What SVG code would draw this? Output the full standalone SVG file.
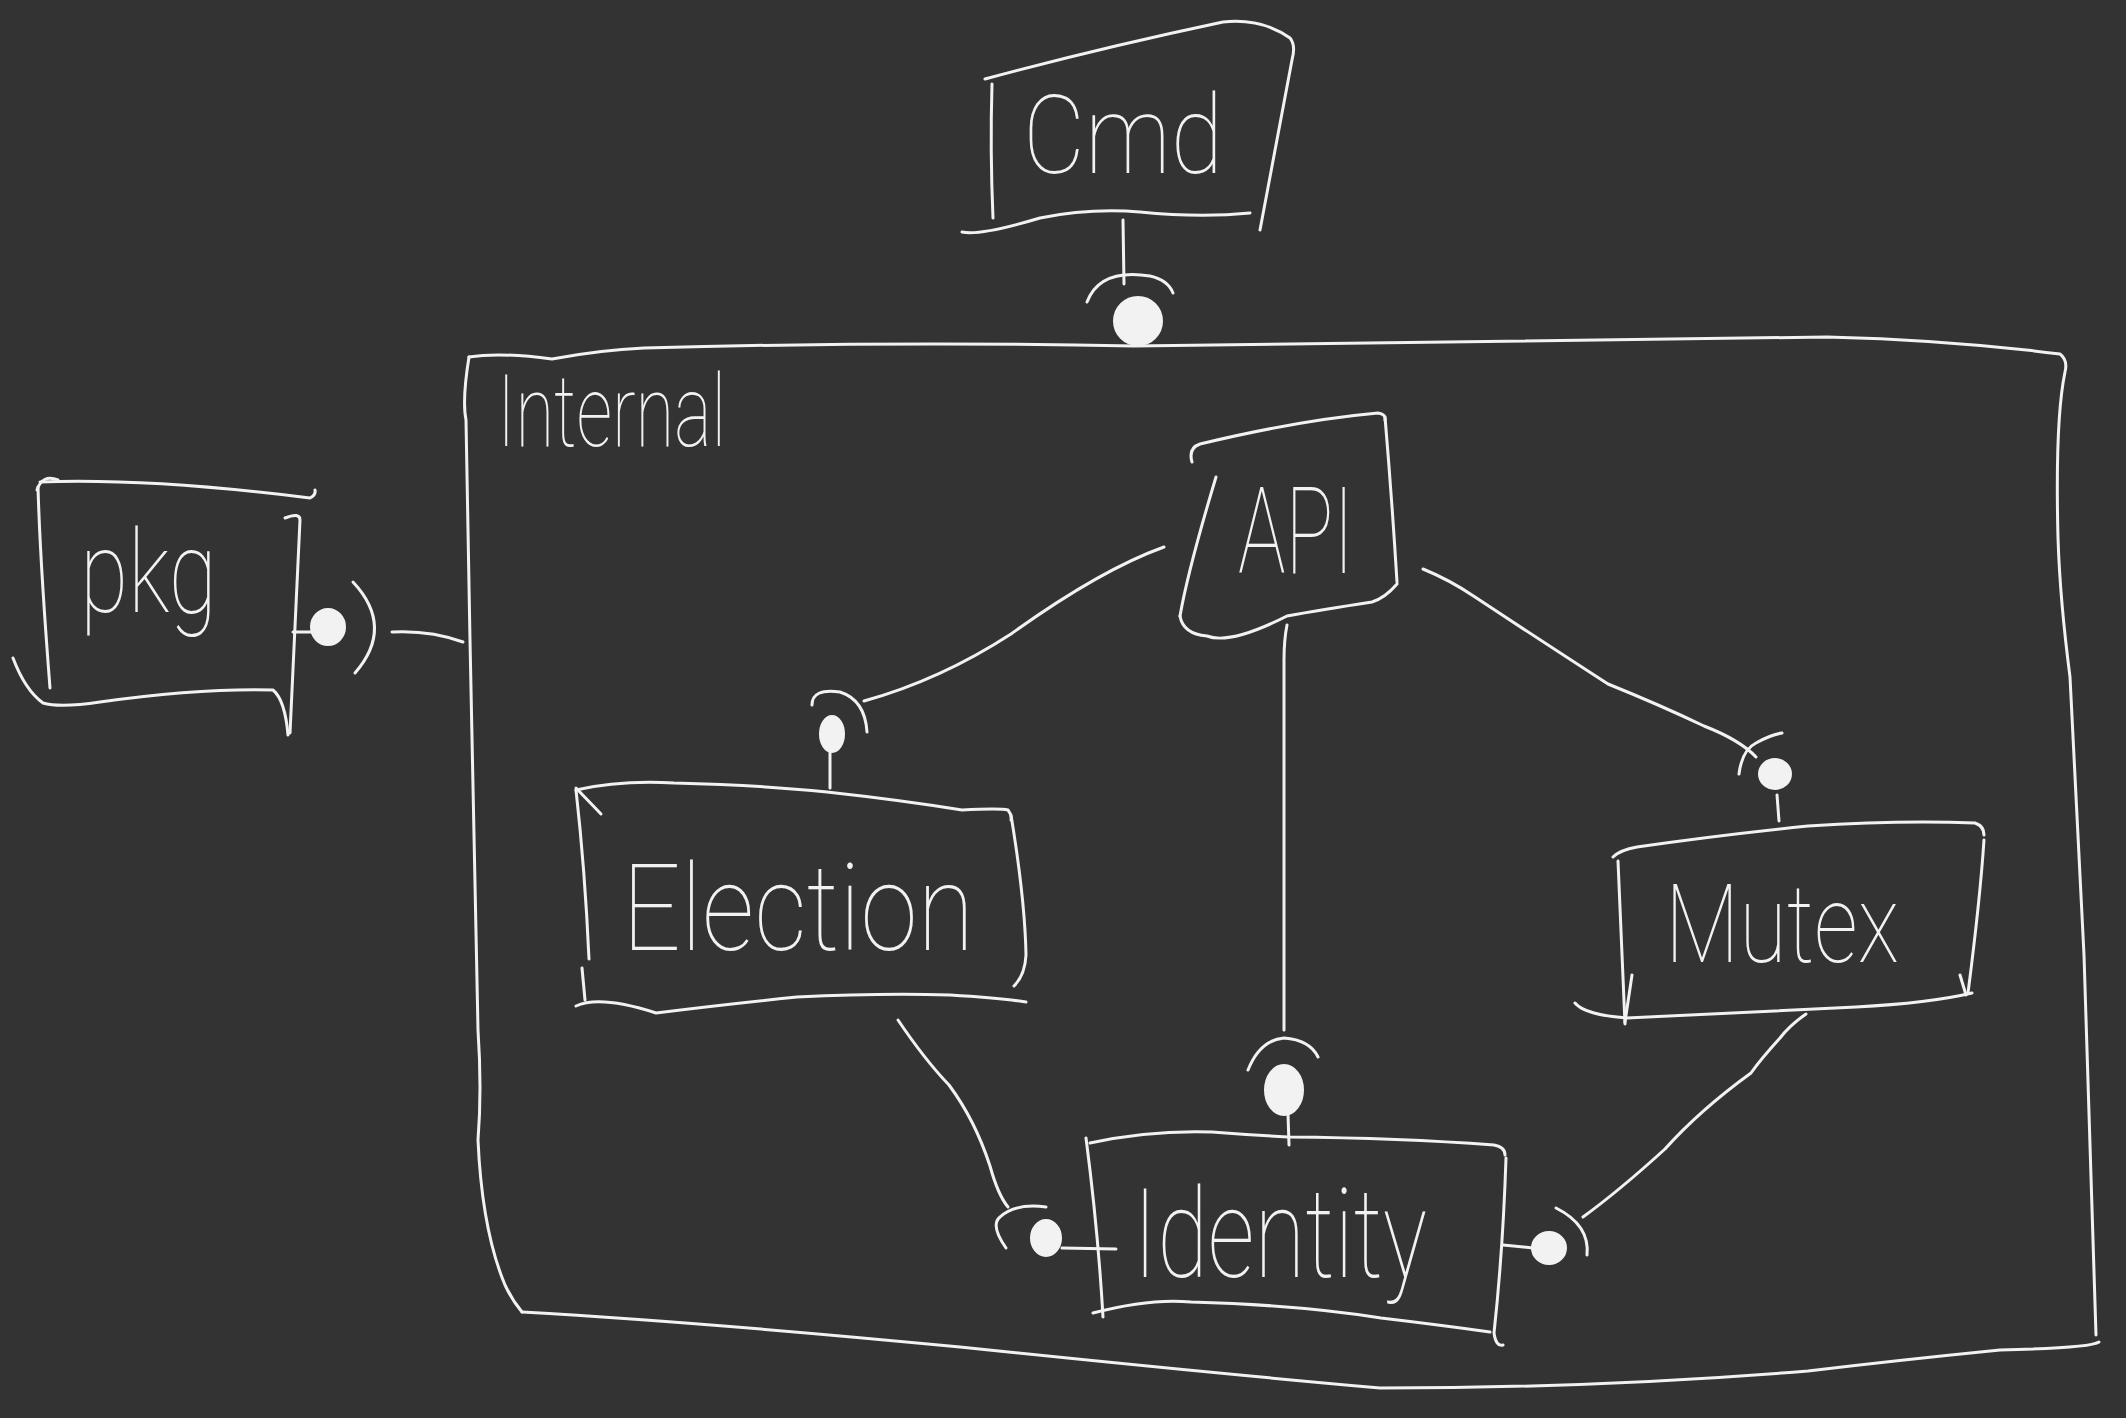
<svg xmlns="http://www.w3.org/2000/svg" width="2126" height="1418" viewBox="0 0 2126 1418">
<style>
.s{fill:none;stroke:#f2f2f2;stroke-width:3;stroke-linecap:round;stroke-linejoin:round}
.b{fill:#f2f2f2;stroke:#f2f2f2;stroke-width:2}
.t{fill:#f2f2f2;font-family:Roboto,'Liberation Sans',sans-serif;font-weight:100}
</style>
<rect width="2126" height="1418" fill="#333333"/>
<g id="node-internal">
<path class="s" d="M469,357 Q500,352 552,359 Q600,350 644,348 Q900,341 1134,346 Q1500,340 1827,337 Q1950,340 2060,354 Q2068,360 2065,372 Q2055,420 2058,538 Q2060,600 2070,677 L2084,955 L2096,1335"/>
<path class="s" d="M2099,1342 Q2090,1348 2000,1350 Q1900,1360 1808,1371 Q1600,1388 1380,1388 Q1200,1372 960,1347 Q700,1322 522,1312"/>
<path class="s" d="M469,357 Q462,400 466,420 L470,640 L478,1030 Q482,1090 478,1140 Q482,1230 505,1285 Q512,1300 522,1312"/>
<text class="t" x="497" y="446" font-size="100" textLength="229" lengthAdjust="spacingAndGlyphs">Internal</text>
</g>
<g id="node-cmd">
<path class="s" d="M985,79 Q1100,48 1223,22 Q1262,18 1290,38 Q1296,45 1292,60 L1260,230"/>
<path class="s" d="M992,84 Q990,150 993,218"/>
<path class="s" d="M962,232 Q980,236 1040,218 Q1090,208 1140,212 Q1200,218 1250,213"/>
<text class="t" x="1023" y="173" font-size="110" textLength="200" lengthAdjust="spacingAndGlyphs">Cmd</text>
</g>
<g id="node-pkg">
<path class="s" d="M37,490 Q42,474 58,480"/>
<path class="s" d="M40,482 Q150,478 310,498 Q316,495 315,490"/>
<path class="s" d="M38,487 Q40,560 50,688"/>
<path class="s" d="M13,658 Q25,690 43,703 Q60,708 100,702 Q200,688 273,690 Q285,700 288,735"/>
<path class="s" d="M285,518 Q300,512 300,520 Q296,600 290,733"/>
<text class="t" x="80" y="612" font-size="115" textLength="137" lengthAdjust="spacingAndGlyphs">pkg</text>
</g>
<g id="node-api">
<path class="s" d="M1192,462 Q1188,448 1200,444 Q1300,420 1378,413 Q1386,414 1385,420"/>
<path class="s" d="M1385,417 Q1392,500 1397,582"/>
<path class="s" d="M1397,584 Q1385,598 1372,602 Q1320,610 1287,616 Q1230,645 1207,636 Q1183,634 1180,616"/>
<path class="s" d="M1216,477 Q1188,570 1180,616"/>
<text class="t" x="1238" y="573" font-size="120" textLength="116" lengthAdjust="spacingAndGlyphs">API</text>
</g>
<g id="node-election">
<path class="s" d="M576,788 L601,814"/>
<path class="s" d="M576,790 Q620,780 674,783 Q760,785 827,792 Q900,800 962,810 Q1000,808 1008,810 Q1012,815 1011,820"/>
<path class="s" d="M1011,815 Q1025,900 1026,955 Q1025,975 1014,986"/>
<path class="s" d="M576,790 Q585,870 589,959"/>
<path class="s" d="M582,968 L585,1000"/>
<path class="s" d="M576,1006 Q600,995 656,1013 Q720,1005 797,997 Q880,993 950,995 Q1000,998 1026,1002"/>
<text class="t" x="622" y="950" font-size="120" textLength="352" lengthAdjust="spacingAndGlyphs">Election</text>
</g>
<g id="node-mutex">
<path class="s" d="M1613,857 Q1620,850 1637,847 Q1720,835 1808,826 Q1900,820 1975,823 Q1984,826 1984,835"/>
<path class="s" d="M1984,840 Q1980,900 1968,993"/>
<path class="s" d="M1960,975 L1966,995"/>
<path class="s" d="M1618,861 L1625,1024"/>
<path class="s" d="M1632,975 L1625,1022"/>
<path class="s" d="M1575,1003 Q1585,1015 1627,1018 Q1750,1012 1856,1007 Q1930,1003 1972,993"/>
<text class="t" x="1665" y="962" font-size="110" textLength="234" lengthAdjust="spacingAndGlyphs">Mutex</text>
</g>
<g id="node-identity">
<path class="s" d="M1090,1143 Q1150,1130 1212,1132 Q1250,1135 1288,1137 Q1400,1138 1494,1145 Q1505,1147 1505,1155"/>
<path class="s" d="M1506,1158 Q1503,1250 1494,1333 Q1496,1347 1503,1345"/>
<path class="s" d="M1086,1138 Q1098,1230 1103,1317"/>
<path class="s" d="M1093,1313 Q1150,1298 1191,1302 Q1300,1305 1381,1318 Q1440,1325 1490,1332"/>
<text class="t" x="1133" y="1277" font-size="125" textLength="294" lengthAdjust="spacingAndGlyphs">Identity</text>
</g>
<g id="connectors">
<path class="s" d="M1123,220 L1124,284"/>
<path class="s" d="M1087,302 Q1100,268 1150,276 Q1168,280 1173,293"/>
<ellipse class="b" cx="1138" cy="321" rx="24" ry="24"/>
<path class="s" d="M293,632 L313,632"/>
<ellipse class="b" cx="328" cy="627" rx="17" ry="18"/>
<path class="s" d="M353,582 Q395,627 355,673"/>
<path class="s" d="M392,632 Q430,630 463,642"/>
<path class="s" d="M1164,547 Q1100,570 1011,634 Q940,680 864,701"/>
<path class="s" d="M812,705 Q812,688 840,692 Q865,700 867,732"/>
<ellipse class="b" cx="832" cy="734" rx="12" ry="18"/>
<path class="s" d="M830,752 L830,788"/>
<path class="s" d="M1287,625 Q1284,640 1284,660 L1284,1030"/>
<path class="s" d="M1248,1070 Q1260,1040 1284,1038 Q1310,1040 1318,1057"/>
<ellipse class="b" cx="1284" cy="1090" rx="19" ry="25"/>
<path class="s" d="M1288,1114 L1289,1145"/>
<path class="s" d="M1423,569 Q1450,580 1475,597 Q1540,640 1608,684 Q1660,705 1704,726 Q1740,740 1756,757"/>
<path class="s" d="M1739,774 Q1742,750 1756,743 Q1770,735 1782,733"/>
<ellipse class="b" cx="1775" cy="774" rx="16" ry="15"/>
<path class="s" d="M1777,795 L1779,821"/>
<path class="s" d="M898,1020 Q925,1060 949,1085 Q975,1120 990,1166 Q998,1195 1008,1207"/>
<path class="s" d="M1006,1248 Q990,1225 1000,1217 Q1015,1203 1046,1207"/>
<ellipse class="b" cx="1046" cy="1238" rx="15" ry="18"/>
<path class="s" d="M1062,1248 L1116,1249"/>
<path class="s" d="M1806,1014 Q1790,1025 1780,1038 Q1760,1060 1751,1073 Q1700,1110 1665,1149 Q1620,1190 1583,1217"/>
<path class="s" d="M1556,1208 Q1590,1225 1587,1255"/>
<ellipse class="b" cx="1549" cy="1248" rx="17" ry="16"/>
<path class="s" d="M1503,1245 L1533,1248"/>
</g>
</svg>
